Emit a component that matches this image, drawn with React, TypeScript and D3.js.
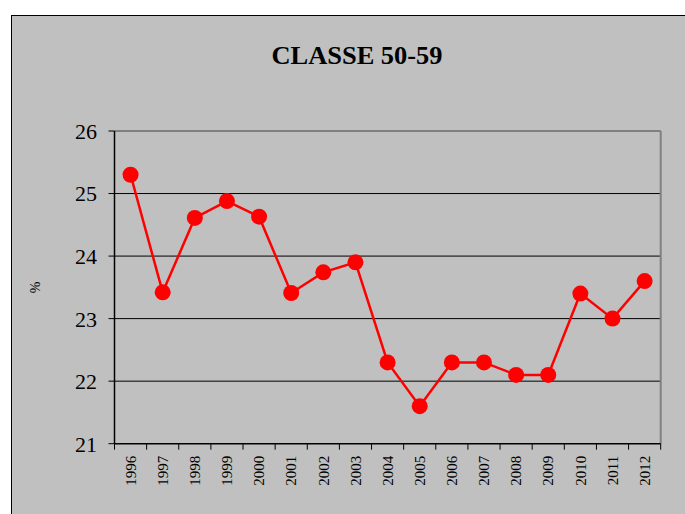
import React from "react";
import * as d3 from "d3";

const years = ["1996","1997","1998","1999","2000","2001","2002","2003","2004","2005","2006","2007","2008","2009","2010","2011","2012"];
const values = [25.3, 23.42, 24.61, 24.88, 24.63, 23.41, 23.74, 23.9, 22.3, 21.6, 22.3, 22.3, 22.1, 22.1, 23.4, 23.0, 23.6];
const yTicks = [21, 22, 23, 24, 25, 26];
const title = "CLASSE 50-59";
const yLabel = "%";

export default function App() {
  const W = 685, H = 514;
  const left = 114.5, right = 660.7, top = 131, bottom = 443.7;
  const x = d3.scaleBand<string>().domain(years).range([left, right]).padding(0);
  const y = d3.scaleLinear().domain([21, 26]).range([bottom, top]);
  const line = d3.line<number>()
    .x((_, i) => (x(years[i]) as number) + x.bandwidth() / 2)
    .y((d) => y(d));
  const font = "'Liberation Serif', 'Times New Roman', serif";
  const boundaries = years.map((yr) => x(yr) as number).concat([right]);
  return (
    <svg width={W} height={H} style={{ position: "absolute", left: 0, top: 0 }} fontFamily={font}>
      <rect x={0} y={0} width={W} height={H} fill="#fff" />
      <rect x={11.5} y={15.5} width={W + 20} height={H + 20} fill="#c0c0c0" stroke="#000" strokeWidth={1} />
      <text x={357} y={64} textAnchor="middle" fontSize={26} fontWeight="bold" textLength={171} lengthAdjust="spacingAndGlyphs">{title}</text>
      {yTicks.filter((t) => t !== 21 && t !== 26).map((t) => (
        <line key={"g" + t} x1={left} x2={right} y1={y(t)} y2={y(t)} stroke="#000" strokeWidth={1} />
      ))}
      <line x1={left} x2={right} y1={top} y2={top} stroke="#808080" strokeWidth={2} />
      <line x1={right} x2={right} y1={top} y2={bottom} stroke="#808080" strokeWidth={2} />
      <line x1={left} x2={left} y1={top} y2={bottom} stroke="#000" strokeWidth={1.5} />
      <line x1={left} x2={right} y1={bottom} y2={bottom} stroke="#000" strokeWidth={1.5} />
      {yTicks.map((t) => (
        <g key={"t" + t}>
          <line x1={left - 6} x2={left} y1={y(t)} y2={y(t)} stroke="#000" strokeWidth={1} />
          <text x={97} y={y(t)} dy="0.36em" textAnchor="end" fontSize={22}>{t}</text>
        </g>
      ))}
      {boundaries.map((b, i) => (
        <line key={"xt" + i} x1={b} x2={b} y1={bottom} y2={bottom + 6} stroke="#000" strokeWidth={1} />
      ))}
      {years.map((yr) => {
        const cx = (x(yr) as number) + x.bandwidth() / 2;
        return (
          <text key={"xl" + yr} transform={`translate(${cx},${bottom + 12}) rotate(-90)`} textAnchor="end" dy="0.35em" fontSize={15}>{yr}</text>
        );
      })}
      <text transform={`translate(35,${(top + bottom) / 2}) rotate(-90)`} textAnchor="middle" dy="0.35em" fontSize={14}>{yLabel}</text>
      <path d={line(values) || ""} fill="none" stroke="#ff0000" strokeWidth={2.5} />
      {values.map((v, i) => (
        <circle key={"c" + i} cx={(x(years[i]) as number) + x.bandwidth() / 2} cy={y(v)} r={8} fill="#ff0000" />
      ))}
    </svg>
  );
}
